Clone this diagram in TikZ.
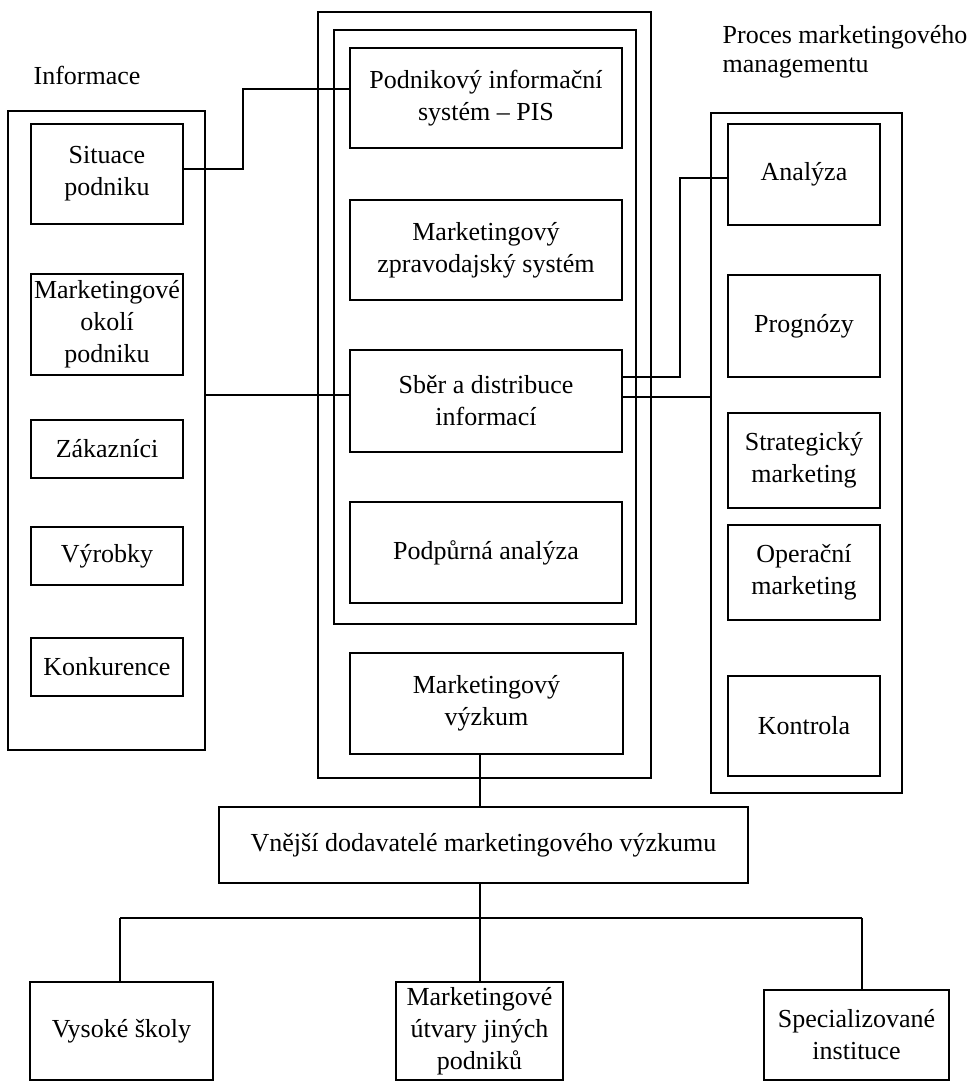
\documentclass[tikz,border=0pt]{standalone}
\usepackage{fontspec}
\setmainfont{Liberation Serif}
% box by its corners: name, x1, y1, x2, y2, text
\newcommand\cbox[6]{\node[bx, minimum width={(#4)-(#2)}, minimum height={(#5)-(#3)}] (#1) at ({((#2)+(#4))/2},{((#3)+(#5))/2}) {#6};}
\begin{document}
\begin{tikzpicture}[x=1pt, y=-1pt, line width=1.3pt,
  bx/.style={draw, align=center, inner sep=0pt, font=\fontsize{26}{32}\selectfont},
  lbl/.style={anchor=west, inner sep=0pt, align=left, font=\fontsize{26}{29}\selectfont}]
\useasboundingbox (0,0) rectangle (976,1084);

% group frames
\cbox{L}{8}{111}{205}{750}{}
\cbox{C}{318}{12}{651}{778}{}
\cbox{F}{334}{30}{636}{624}{}
\cbox{R}{711}{113}{902}{793}{}

% group titles
\node[lbl] (tinf) at (33,75) {Informace};
\node[lbl] (tpro) at (722,52) {Proces marketingového\\managementu};

% information sources
\cbox{sit}{31}{124}{183}{224}{Situace\\podniku}
\cbox{oko}{31}{274}{183}{375}{Marketingové\\okolí\\podniku}
\cbox{zak}{31}{420}{183}{478}{Zákazníci}
\cbox{vyr}{31}{527}{183}{585}{Výrobky}
\cbox{kon}{31}{638}{183}{696}{Konkurence}

% information system
\cbox{pis}{350}{48}{622}{148}{Podnikový informační\\systém – PIS}
\cbox{zpr}{350}{200}{622}{300}{Marketingový\\zpravodajský systém}
\cbox{sber}{350}{350}{622}{452}{Sběr a distribuce\\informací}
\cbox{pod}{350}{502}{622}{603}{Podpůrná analýza}
\cbox{vyz}{350}{653}{623}{754}{Marketingový\\výzkum}

% marketing management process
\cbox{ana}{728}{124}{880}{225}{Analýza}
\cbox{pro}{728}{275}{880}{377}{Prognózy}
\cbox{str}{728}{413}{880}{508}{Strategický\\marketing}
\cbox{ope}{728}{525}{880}{620}{Operační\\marketing}
\cbox{ktr}{728}{676}{880}{776}{Kontrola}

% external suppliers
\cbox{vne}{219}{807}{748}{883}{Vnější dodavatelé marketingového výzkumu}
\cbox{vys}{30}{982}{213}{1080}{Vysoké školy}
\cbox{utv}{396}{982}{563}{1080}{Marketingové\\útvary jiných\\podniků}
\cbox{spe}{764}{990}{949}{1080}{Specializované\\instituce}

% connectors
\coordinate (a1) at ([yshift=5pt]sit.east);
\coordinate (a2) at ([yshift=9pt]pis.west);
\draw (a1) -- (243,0 |- a1) |- (a2);

\coordinate (b1) at ([yshift=6pt]sber.west);
\draw (b1) -- (b1 -| L.east);

\coordinate (c1) at ([yshift=24pt]sber.east);
\coordinate (c2) at ([yshift=-3.5pt]ana.west);
\draw (c1) -- (680,0 |- c1) |- (c2);

\coordinate (d1) at ([yshift=4pt]sber.east);
\draw (d1) -- (d1 -| R.west);

\coordinate (j) at (480,918);
\draw (vyz.south -| j) -- (vne.north -| j);
\draw (vne.south -| j) -- (utv.north -| j);
\coordinate (bl) at (120,918);
\coordinate (br) at (862,918);
\draw (bl) -- (br);
\draw (bl) -- (bl |- vys.north);
\draw (br) -- (br |- spe.north);
\end{tikzpicture}
\end{document}
